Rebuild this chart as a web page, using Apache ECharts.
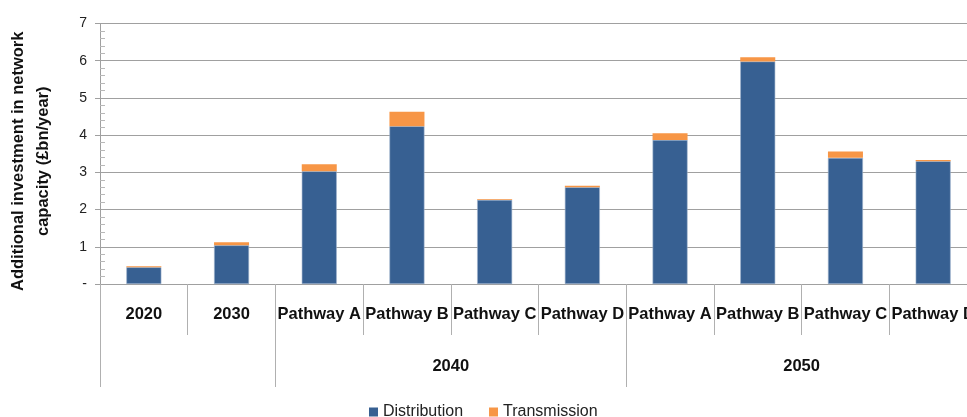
<!DOCTYPE html>
<html>
<head>
<meta charset="utf-8">
<script src="https://cdn.jsdelivr.net/npm/echarts@6/dist/echarts.min.js"></script>
<style>html,body{margin:0;padding:0;background:#fff}#c{width:967px;height:417px}</style>
</head>
<body>
<div id="c"></div>
<script>
const categories = ['2020','2030','Pathway A','Pathway B','Pathway C','Pathway D','Pathway A','Pathway B','Pathway C','Pathway D'];
const distribution = [0.45,1.04,3.03,4.24,2.26,2.60,3.87,5.98,3.39,3.30];
const transmission = [0.03,0.08,0.19,0.39,0.02,0.04,0.18,0.11,0.17,0.03];
const groupNames = ['2040','2050'];
const groupStarts = [2,6];
const groupEnds = [6,10];

const F = 'Liberation Sans';
const grey = '#a0a0a0';
const groupCenters = groupNames.map((g,i)=>(groupStarts[i]+groupEnds[i])/2);
const boundaries = [0].concat(groupStarts, groupEnds).filter((v,i,a)=>a.indexOf(v)===i);

const chart = echarts.init(document.getElementById('c'));
chart.setOption({
  animation:false,
  textStyle:{fontFamily:F},
  grid:{left:100,right:-10,top:23.5,bottom:133,containLabel:false,outerBoundsMode:'none'},
  legend:{
    left:364, top:399, itemWidth:9, itemHeight:9, itemGap:26,
    icon:'rect',
    itemStyle:{borderWidth:0},
    textStyle:{fontFamily:F,fontSize:16,color:'#222'},
    data:['Distribution','Transmission']
  },
  xAxis:[{
    type:'category', data:categories, position:'bottom',
    axisLine:{show:true,lineStyle:{color:grey,width:1}},
    axisTick:{show:true,interval:0,length:51,lineStyle:{color:'#b0b0b0'}},
    axisLabel:{interval:0,margin:22,fontFamily:F,fontSize:16.5,fontWeight:'bold',color:'#111'},
    splitLine:{show:false}
  },{
    type:'value', min:0, max:10, position:'bottom', gridIndex:0,
    axisLine:{show:false},
    axisTick:{show:true,customValues:boundaries,length:103,lineStyle:{color:'#b0b0b0'}},
    axisLabel:{show:true,customValues:groupCenters,margin:74,fontFamily:F,fontSize:16.5,fontWeight:'bold',color:'#111',
      formatter:(v)=>{const i=groupCenters.indexOf(v);return i>=0?groupNames[i]:'';}},
    splitLine:{show:false}
  }],
  yAxis:[{
    type:'value', min:0, max:7, interval:1,
    axisLine:{show:true,lineStyle:{color:grey}},
    axisTick:{show:true,length:5,lineStyle:{color:grey}},
    axisLabel:{fontFamily:F,fontSize:14,color:'#222',margin:13,
      formatter:(v)=>v===0?'-':String(v)},
    splitLine:{show:true,lineStyle:{color:grey,width:1}},
    name:'Additional investment in network\ncapacity (£bn/year)',
    nameLocation:'middle', nameRotate:90, nameGap:44,
    nameTextStyle:{fontFamily:F,fontSize:16.5,fontWeight:'bold',color:'#111',lineHeight:25,padding:[0,0,0,-15]}
  },{
    type:'value', min:0, max:7, interval:1, position:'left', offset:0,
    axisLine:{show:false}, axisLabel:{show:false}, splitLine:{show:false},
    axisTick:{show:true,inside:true,length:0.001,lineStyle:{color:'rgba(0,0,0,0)'}},
    minorTick:{show:true,splitNumber:5,length:5,lineStyle:{color:'#b8b8b8'}}
  }],
  series:[{
    name:'Distribution', type:'bar', stack:'s', data:distribution, barWidth:35,
    itemStyle:{color:'#376092',borderColor:'#9fb3cc',borderWidth:0.6}
  },{
    name:'Transmission', type:'bar', stack:'s', data:transmission, barWidth:35,
    itemStyle:{color:'#f79646'}
  }]
});
</script>
</body>
</html>
